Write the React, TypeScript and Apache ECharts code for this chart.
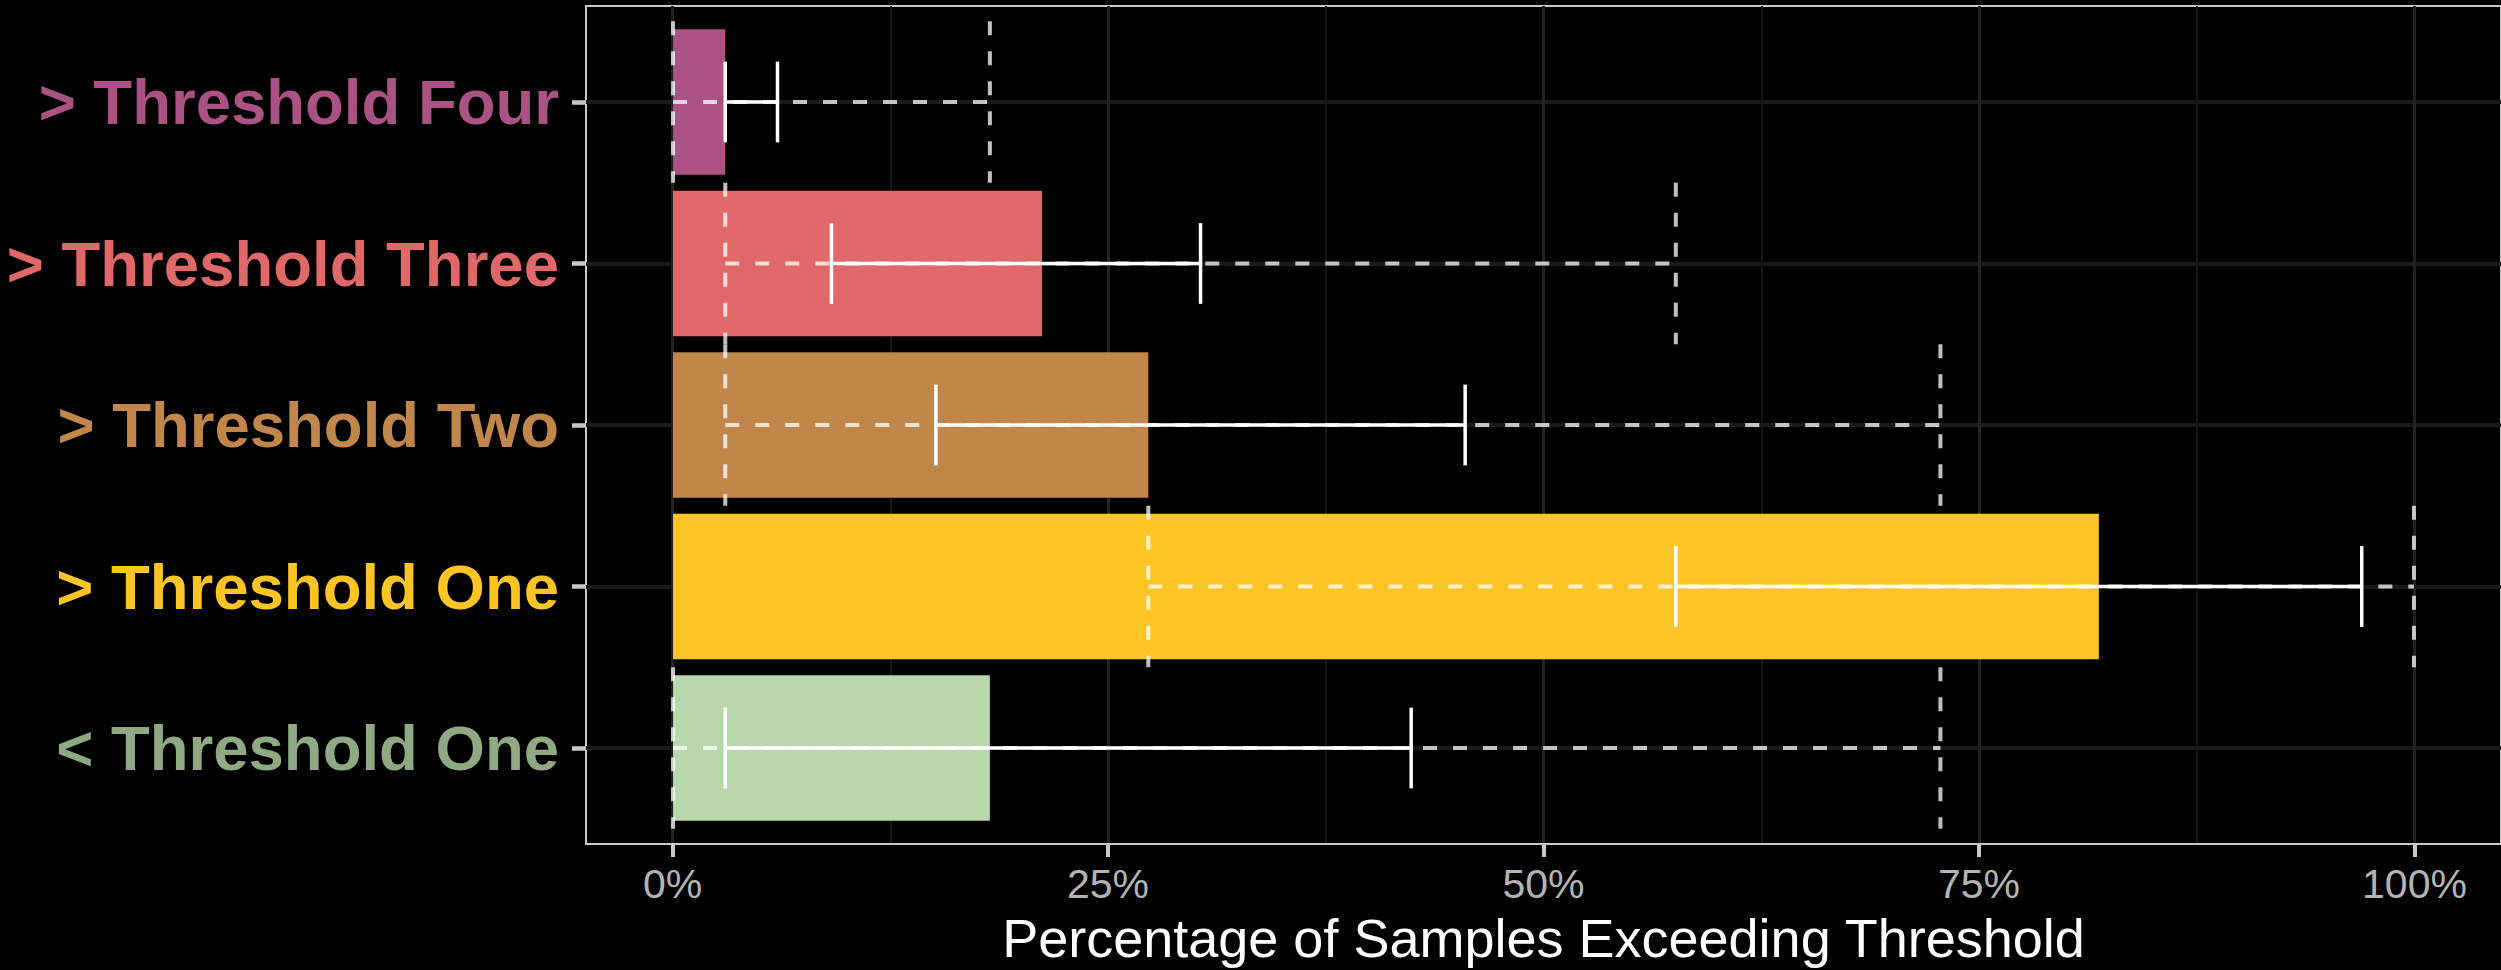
import React, { useEffect, useRef } from 'react';
import * as echarts from 'echarts';

// Categories, top to bottom
const categories = ['> Threshold Four', '> Threshold Three', '> Threshold Two', '> Threshold One', '< Threshold One'];
// Bar value (share of samples exceeding threshold)
const barValues = [0.03, 0.212, 0.273, 0.819, 0.182];
// Solid white interval
const ciLow = [0.03, 0.091, 0.151, 0.576, 0.03];
const ciHigh = [0.06, 0.303, 0.455, 0.97, 0.424];
// Dashed grey range
const rangeLow = [0, 0.03, 0.03, 0.273, 0];
const rangeHigh = [0.182, 0.576, 0.728, 1.0, 0.728];
// Colours
const barColors = ['#AA5283', '#E16868', '#C0864A', '#FCC525', '#B8D7AC'];
const labelColors = ['#AA5283', '#E16868', '#C0864A', '#FCC525', '#8FAA82'];

const xTitle = 'Percentage of Samples Exceeding Threshold';
const FONT = 'Liberation Sans, Arial, Helvetica, sans-serif';

export default function App() {
  const ref = useRef<HTMLDivElement>(null);

  useEffect(() => {
    if (!ref.current) return;
    const chart = echarts.init(ref.current, null, { renderer: 'svg' });

    const rich: Record<string, any> = {};
    labelColors.forEach((c, i) => {
      rich['r' + i] = { color: c, fontSize: 63.5, fontWeight: 'bold', fontFamily: FONT };
    });

    const rangeData = categories.map((_, i) => [i, rangeLow[i], rangeHigh[i]]);
    const ciData = categories.map((_, i) => [i, ciLow[i], ciHigh[i]]);

    const option: any = {
      animation: false,
      backgroundColor: '#000',
      grid: [
        // panel (border)
        { left: 586, right: -3, top: 6, bottom: 126, show: true, borderColor: '#c8c8c8', borderWidth: 2, backgroundColor: 'transparent' },
        // data x scale
        { left: 672.5, right: 86.5, top: 6, bottom: 126 },
        // categories
        { left: 586, right: 0, top: 102, bottom: 222 },
      ],
      xAxis: [
        { gridIndex: 0, type: 'value', min: -0.05, max: 1.05, show: false },
        {
          gridIndex: 1,
          type: 'value',
          min: 0,
          max: 1,
          interval: 0.25,
          axisLine: { show: false, onZero: false },
          axisTick: { show: true, length: 14, lineStyle: { color: '#c8c8c8', width: 4 } },
          axisLabel: {
            color: '#b3b3b3',
            fontSize: 41,
            fontFamily: FONT,
            margin: 20,
            formatter: (v: number) => Math.round(v * 100) + '%',
          },
          splitLine: { show: true, lineStyle: { color: '#222222', width: 3 } },
          minorTick: { show: false, splitNumber: 2 },
          minorSplitLine: { show: true, lineStyle: { color: '#161616', width: 2 } },
          name: xTitle,
          nameLocation: 'middle',
          nameGap: 68,
          nameTextStyle: { color: '#ffffff', fontSize: 54, fontFamily: FONT },
        },
        { gridIndex: 2, type: 'value', min: -0.05, max: 1.05, show: false },
      ],
      yAxis: [
        { gridIndex: 0, type: 'value', show: false },
        { gridIndex: 1, type: 'value', show: false },
        {
          gridIndex: 2,
          type: 'category',
          data: categories,
          inverse: true,
          boundaryGap: false,
          axisLine: { show: false, onZero: false },
          axisTick: { show: true, length: 14, interval: 0, lineStyle: { color: '#c8c8c8', width: 4.5 } },
          axisLabel: {
            interval: 0,
            margin: 27,
            formatter: (v: string, i: number) => `{r${i}|${v}}`,
            rich,
          },
          splitLine: { show: true, interval: 0, lineStyle: { color: '#1a1a1a', width: 4 } },
        },
      ],
      series: [
        {
          type: 'bar',
          xAxisIndex: 2,
          yAxisIndex: 2,
          barWidth: '90%',
          clip: false,
          z: 2,
          data: barValues.map((v, i) => ({ value: v, itemStyle: { color: barColors[i] } })),
        },
        {
          type: 'custom',
          xAxisIndex: 2,
          yAxisIndex: 2,
          z: 3,
          clip: false,
          encode: { x: [1, 2], y: 0 },
          data: rangeData,
          renderItem: (params: any, api: any) => {
            const i = api.value(0);
            const p0 = api.coord([api.value(1), i]);
            const p1 = api.coord([api.value(2), i]);
            const half = api.size([0, 1])[1] / 2;
            const style = { stroke: 'rgba(255,255,255,0.75)', lineWidth: 4, lineDash: [14, 16], fill: null };
            return {
              type: 'group',
              children: [
                { type: 'line', shape: { x1: p0[0], y1: p0[1], x2: p1[0], y2: p1[1] }, style },
                { type: 'line', shape: { x1: p0[0], y1: p0[1] - half, x2: p0[0], y2: p0[1] + half }, style },
                { type: 'line', shape: { x1: p1[0], y1: p1[1] - half, x2: p1[0], y2: p1[1] + half }, style },
              ],
            };
          },
        },
        {
          type: 'custom',
          xAxisIndex: 2,
          yAxisIndex: 2,
          z: 4,
          clip: false,
          encode: { x: [1, 2], y: 0 },
          data: ciData,
          renderItem: (params: any, api: any) => {
            const i = api.value(0);
            const p0 = api.coord([api.value(1), i]);
            const p1 = api.coord([api.value(2), i]);
            const half = api.size([0, 1])[1] / 4;
            const style = { stroke: '#ffffff', lineWidth: 3.5, fill: null };
            return {
              type: 'group',
              children: [
                { type: 'line', shape: { x1: p0[0], y1: p0[1], x2: p1[0], y2: p1[1] }, style },
                { type: 'line', shape: { x1: p0[0], y1: p0[1] - half, x2: p0[0], y2: p0[1] + half }, style },
                { type: 'line', shape: { x1: p1[0], y1: p1[1] - half, x2: p1[0], y2: p1[1] + half }, style },
              ],
            };
          },
        },
      ],
    };

    chart.setOption(option);
    return () => chart.dispose();
  }, []);

  return (
    <div
      ref={ref}
      style={{ position: 'fixed', left: 0, top: 0, width: 2501, height: 970, background: '#000' }}
    />
  );
}
